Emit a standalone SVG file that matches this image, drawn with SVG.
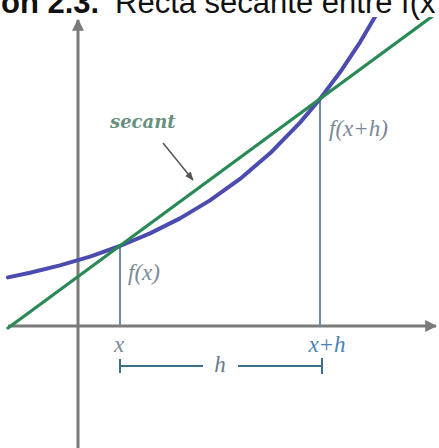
<svg xmlns="http://www.w3.org/2000/svg" width="439" height="448" viewBox="0 0 439 448">
<style>
.title{font-family:"Liberation Sans",Arial,sans-serif;font-size:31px;fill:#111}
.lbl{font-family:"Liberation Serif","Times New Roman",serif;font-style:italic;font-size:23px}
.axis{stroke:#7a7a7a;stroke-width:3;fill:none}
.guide{stroke:#6f8aa3;stroke-width:2;fill:none}
.brk{stroke:#3d6f8a;stroke-width:2;fill:none}
</style>
<defs>
<marker id="ah" viewBox="0 0 10 10" refX="9" refY="5" markerWidth="4" markerHeight="4" orient="auto" markerUnits="strokeWidth">
<path d="M0,0 L10,5 L0,10 z" fill="#7a7a7a"/>
</marker>
<marker id="sa" viewBox="0 0 10 10" refX="9" refY="5" markerWidth="6" markerHeight="6" orient="auto" markerUnits="strokeWidth">
<path d="M0,1 L10,5 L0,9 z" fill="#555"/>
</marker>
<clipPath id="plot"><rect x="0" y="17" width="439" height="431"/></clipPath>
</defs>
<rect width="439" height="448" fill="#fff"/>
<g id="title">
<text class="title" x="1" y="13" font-weight="bold">ón 2.3.</text>
<text class="title" x="115" y="13">Recta secante entre f(x</text>
</g>
<g id="axes">
<line class="axis" x1="78" y1="448" x2="78" y2="20" marker-end="url(#ah)"/>
<line class="axis" x1="8" y1="326" x2="436" y2="326" marker-end="url(#ah)"/>
</g>
<g id="connectors">
<line class="guide" x1="120" y1="247" x2="120" y2="326"/>
<line class="guide" x1="320" y1="100" x2="320" y2="326"/>
<line x1="163" y1="143" x2="193" y2="180" stroke="#555" stroke-width="1.5" marker-end="url(#sa)"/>
</g>
<g id="curves" clip-path="url(#plot)">
<polyline fill="none" stroke="#4b4bb0" stroke-width="4" stroke-linejoin="round" stroke-linecap="round" points="8,277.4 30,272.8 60,265.4 90,256.6 120,246 150,233.4 180,218.4 210,200.4 240,178.9 270,153.3 300,122.6 320,98.9 340,72.3 360,42.3 380,8.4"/>
<line x1="8" y1="328" x2="439" y2="11.4" stroke="#2a8a55" stroke-width="3.2" stroke-linecap="round"/>
</g>
<g id="labels">
<text x="110" y="128" font-family="'DejaVu Serif',serif" font-style="italic" font-weight="bold" font-size="18" fill="#6a8f80">secant</text>
<text class="lbl" x="128" y="280" fill="#7a8898">f(x)</text>
<text class="lbl" x="329" y="136" fill="#7a8898">f(x+h)</text>
<text class="lbl" x="119" y="352" text-anchor="middle" fill="#7a8898">x</text>
<text class="lbl" x="327" y="352" text-anchor="middle" fill="#4a80b8">x+h</text>
</g>
<g id="bracket">
<line class="brk" x1="120" y1="366" x2="203" y2="366"/>
<line class="brk" x1="238" y1="366" x2="322" y2="366"/>
<line class="brk" x1="120" y1="359" x2="120" y2="373" stroke-width="3"/>
<line class="brk" x1="322" y1="358" x2="322" y2="374" stroke-width="3"/>
<text class="lbl" x="220" y="372" text-anchor="middle" fill="#6a7a8a">h</text>
</g>
</svg>
